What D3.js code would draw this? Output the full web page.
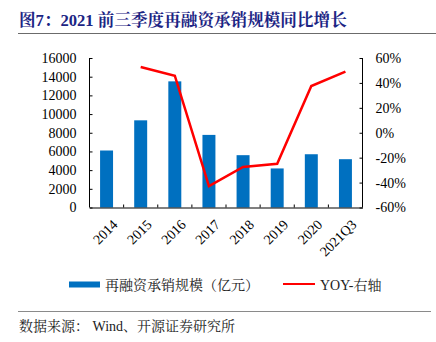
<!DOCTYPE html>
<html><head><meta charset="utf-8">
<script src="https://cdn.jsdelivr.net/npm/d3@7"></script>
<style>body{margin:0;background:#fff}svg{display:block}</style>
</head><body>
<script>
const categories = ["2014","2015","2016","2017","2018","2019","2020","2021Q3"];
const scaleValues = [6100, 9330, 13500, 7770, 5600, 4180, 5700, 5170];
const yoyValues = [null, 52.8, 45.8, -42.9, -27.4, -24.9, 37.5, 49.0];
const leftTicks = [0,2000,4000,6000,8000,10000,12000,14000,16000];
const rightTicks = [-60,-40,-20,0,20,40,60];
const titleText = "图7：2021 前三季度再融资承销规模同比增长";
const sourceText = "数据来源： Wind、开源证券研究所";
const legendBar = "再融资承销规模（亿元）";
const legendLine = "YOY-右轴";

const W=436,H=342;
const svg=d3.select("body").append("svg").attr("width",W).attr("height",H);
const serif="'Liberation Serif','Times New Roman','Noto Serif CJK SC','Noto Sans CJK SC',serif";
const L=89.5,R=362.5,T=58,B=207.5;

svg.append("text").attr("x",19).attr("y",25.5).text(titleText)
  .attr("font-family",serif).attr("font-weight","bold").attr("font-size",16.6).attr("fill","#1c2584");
svg.append("line").attr("x1",18).attr("x2",436).attr("y1",33.5).attr("y2",33.5).attr("stroke","#6b6b6b").attr("stroke-width",1.2);

const x=d3.scaleBand().domain(categories).range([L,R]).paddingInner(0.62).paddingOuter(0.31);
const xb=d3.scaleBand().domain(categories).range([L,R]);
const yL=d3.scaleLinear().domain([0,16000]).range([B,T]);
const yR=d3.scaleLinear().domain([-60,60]).range([B,T]);

svg.append("g").selectAll("rect").data(categories).join("rect")
  .attr("x",d=>x(d)).attr("width",x.bandwidth())
  .attr("y",(d,i)=>yL(scaleValues[i])).attr("height",(d,i)=>B-yL(scaleValues[i]))
  .attr("fill","#0070c0");

const line=d3.line().defined(d=>d.v!=null).x(d=>xb(d.c)+xb.bandwidth()/2).y(d=>yR(d.v));
svg.append("path").datum(categories.map((c,i)=>({c,v:yoyValues[i]})))
  .attr("d",line).attr("fill","none").attr("stroke","#ff0000").attr("stroke-width",2.5);

// left axis
const gl=svg.append("g").attr("transform",`translate(${L},0)`)
  .call(d3.axisLeft(yL).tickValues(leftTicks).tickSize(-3).tickPadding(13).tickFormat(d3.format("d")));
// right axis
const gr=svg.append("g").attr("transform",`translate(${R},0)`)
  .call(d3.axisRight(yR).tickValues(rightTicks).tickSize(-3).tickPadding(13).tickFormat(d=>d+"%"));
// x axis
const gx=svg.append("g").attr("transform",`translate(0,${B})`)
  .call(d3.axisBottom(xb).tickSize(0).tickFormat(""));
gx.selectAll(".tick").remove();
const bounds=categories.slice(1).map(c=>xb(c));
gx.selectAll("line.bt").data(bounds).join("line").attr("class","bt")
  .attr("x1",d=>d).attr("x2",d=>d).attr("y1",0).attr("y2",-3).attr("stroke","#000");
gx.selectAll("text.xl").data(categories).join("text").attr("class","xl")
  .attr("transform",d=>`translate(${xb(d)+xb.bandwidth()/2+5},${11}) rotate(-45)`)
  .attr("text-anchor","end").attr("dy","0.7em").text(d=>d);

[gl,gr,gx].forEach(g=>{
  g.selectAll(".domain").attr("stroke","#000").attr("stroke-width",1);
  g.selectAll("line").attr("stroke","#000");
  g.selectAll("text").attr("font-family",serif).attr("font-size",14).attr("fill","#000");
});
gl.select(".domain").attr("d",`M-0,${B}V${T}`);
gr.select(".domain").attr("d",`M0,${B}V${T}`);

// legend
svg.append("rect").attr("x",69).attr("y",281.5).attr("width",31).attr("height",6).attr("fill","#0070c0");
svg.append("text").attr("x",105).attr("y",289.5).text(legendBar).attr("font-family",serif).attr("font-size",14).attr("fill","#222");
svg.append("line").attr("x1",283).attr("x2",315).attr("y1",284).attr("y2",284).attr("stroke","#ff0000").attr("stroke-width",2);
svg.append("text").attr("x",320).attr("y",289.5).text(legendLine).attr("font-family",serif).attr("font-size",14).attr("fill","#222");

svg.append("line").attr("x1",18).attr("x2",431).attr("y1",311.5).attr("y2",311.5).attr("stroke","#8a8a8a").attr("stroke-width",1.2);
svg.append("text").attr("x",19).attr("y",330.5).text(sourceText).attr("font-family",serif).attr("font-size",14).attr("fill","#222");
</script>
</body></html>
